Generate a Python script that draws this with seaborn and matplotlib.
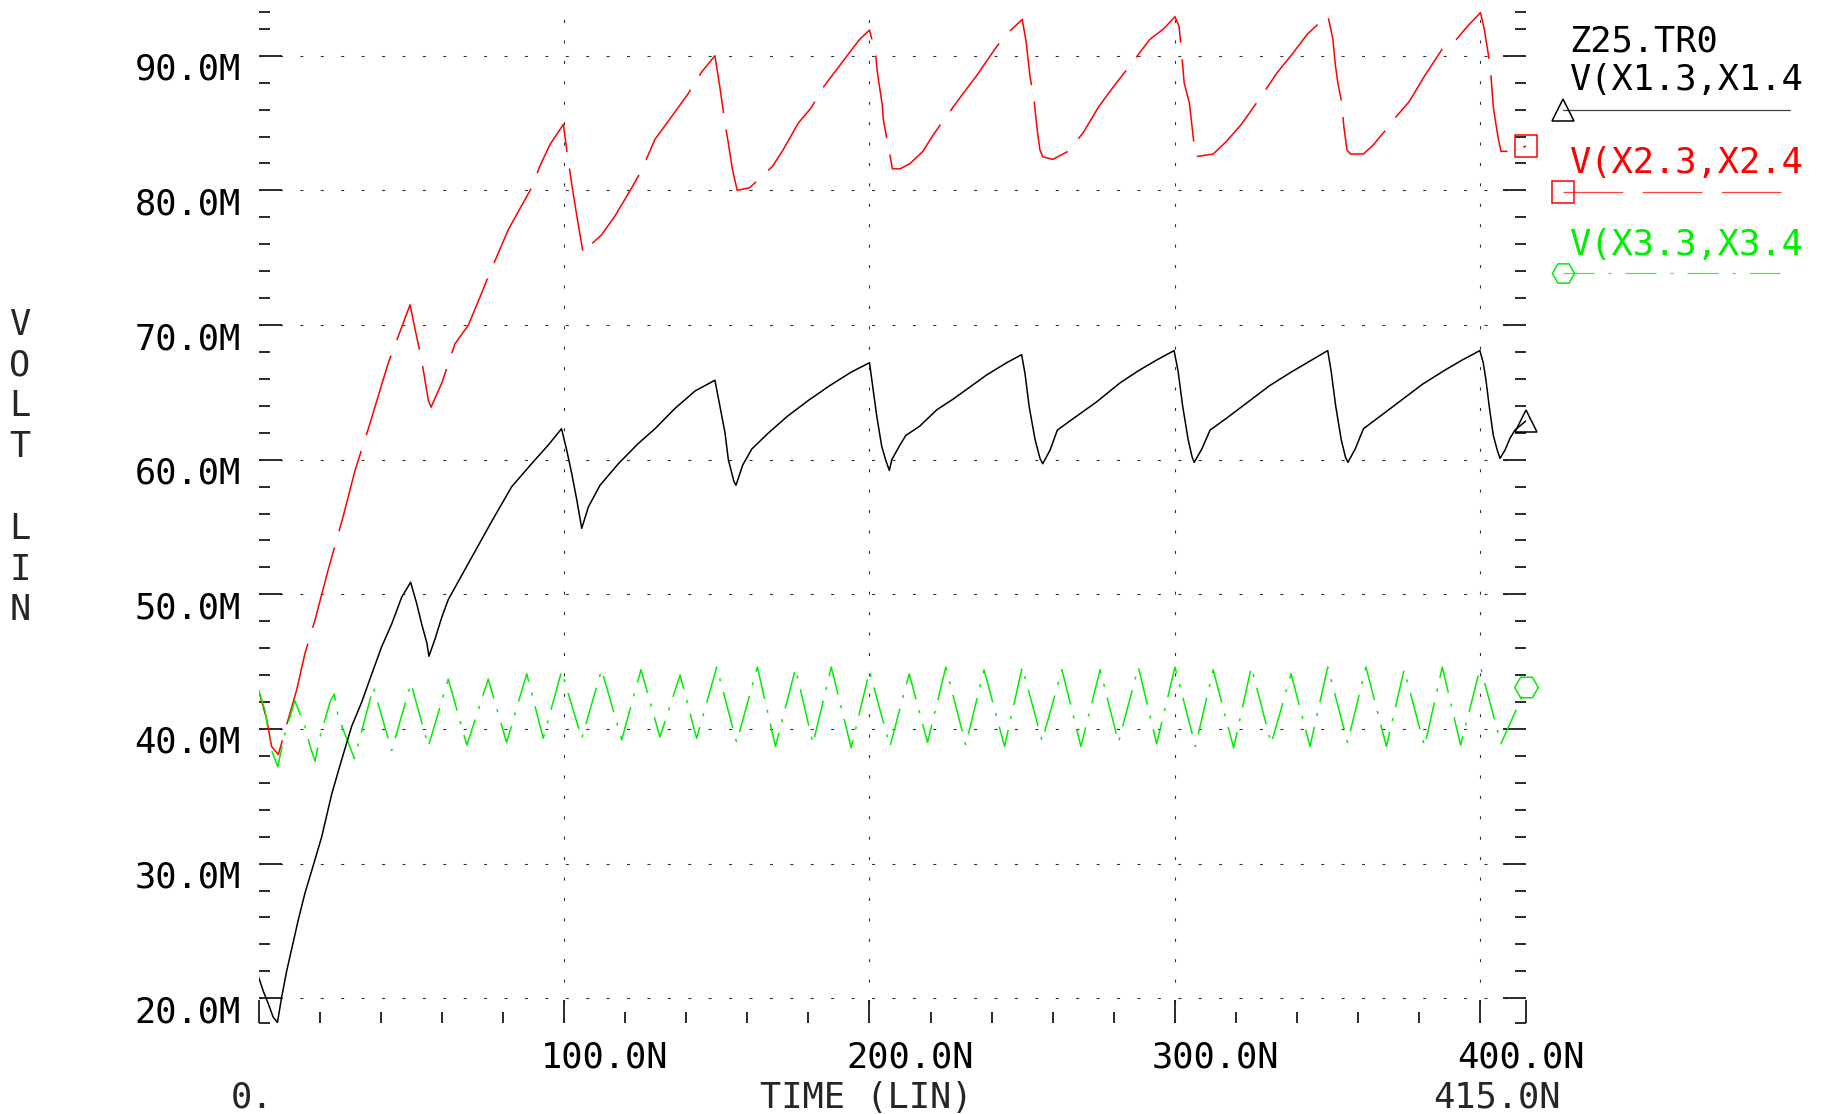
import matplotlib
matplotlib.use("Agg")
import matplotlib.pyplot as plt
from matplotlib.lines import Line2D
import seaborn as sns

# ---------------- data (time in ns, voltage in "M" units) ----------------
black_t = [0, 1.6, 3.2, 4.8, 6.2, 7.6, 9.2, 10.9, 13.0, 15.2,
           18.5, 20.7, 24.0, 27.2, 30.5, 33.8, 37.1, 40.3, 43.6, 46.9,
           49.8, 51.8, 53.4, 55.1, 55.8, 57.8, 60.0, 62.1, 66.5, 70.9,
           76.3, 82.9, 89.4, 94.9, 99.2, 100.9, 102.5, 104.2, 105.8, 108.0,
           111.8, 117.8, 124.3, 129.8, 136.3, 142.9, 149.4, 151.1, 152.7, 153.8,
           155.6, 156.3, 158.5, 161.5, 167.0, 173.0, 180.0, 187.0, 194.0, 200.0,
           201.2, 202.4, 204.0, 205.4, 206.5, 207.3, 210.0, 211.9, 216.5, 222.0,
           227.4, 232.9, 238.4, 244.9, 249.8, 250.9, 252.3, 254.2, 255.8, 256.7,
           259.1, 261.5, 267.0, 274.4, 282.0, 288.0, 294.0, 299.7, 301.0, 302.5,
           304.3, 305.6, 306.3, 308.8, 311.5, 317.0, 324.0, 331.0, 338.0, 344.0,
           350.0, 351.1, 352.6, 354.4, 355.8, 356.6, 359.0, 361.7, 367.0, 374.0,
           381.0, 388.0, 394.0, 399.8, 400.9, 401.8, 402.9, 404.2, 405.5, 406.4,
           408.0, 409.7, 411.3, 415.0]
black_v = [21.6, 20.5, 19.6, 18.6, 18.2, 20.1, 22.0, 23.7, 25.8, 27.8,
           30.3, 32.0, 35.2, 37.7, 40.2, 42.0, 44.1, 46.1, 47.8, 49.8,
           50.9, 49.3, 47.8, 46.4, 45.4, 46.7, 48.3, 49.6, 51.4, 53.2,
           55.4, 58.0, 59.7, 61.1, 62.3, 60.7, 59.0, 57.0, 54.9, 56.5,
           58.1, 59.7, 61.2, 62.3, 63.8, 65.1, 65.9, 63.9, 62.0, 60.0,
           58.4, 58.1, 59.6, 60.8, 62.0, 63.2, 64.4, 65.5, 66.5, 67.2,
           65.2, 63.2, 61.0, 59.9, 59.2, 60.0, 61.1, 61.8, 62.5, 63.7,
           64.5, 65.4, 66.3, 67.2, 67.8, 66.4, 63.9, 61.5, 60.1, 59.7,
           60.7, 62.2, 63.1, 64.3, 65.7, 66.6, 67.4, 68.1, 66.6, 64.0,
           61.5, 60.2, 59.8, 60.8, 62.2, 63.1, 64.3, 65.5, 66.5, 67.3,
           68.1, 66.6, 64.0, 61.5, 60.2, 59.8, 60.8, 62.3, 63.2, 64.4,
           65.6, 66.6, 67.4, 68.1, 67.2, 65.9, 63.9, 61.8, 60.7, 60.1,
           60.7, 61.6, 62.2, 62.9]

red_t = [0, 2.7, 4.3, 6.5, 9.2, 12.5, 15.2, 18.5, 22.9, 27.5,
         31.6, 36.5, 42.5, 49.6, 51.8, 53.4, 55.6, 56.5, 60.0, 64.3,
         68.7, 73.1, 75.2, 81.8, 85.0, 89.4, 92.1, 95.4, 99.8, 100.9,
         102.5, 104.2, 106.3, 108.0, 112.3, 116.7, 122.2, 125.4, 129.8, 135.3,
         140.7, 145.1, 149.4, 151.0, 152.7, 153.8, 155.1, 156.7, 160.8, 168.3,
         171.7, 176.7, 180.8, 185.0, 191.7, 196.7, 200.0, 202.0, 202.5, 203.3,
         204.2, 204.5, 205.8, 206.7, 207.5, 210.0, 213.3, 217.5, 220.8, 224.2,
         230.0, 235.0, 241.7, 245.8, 250.0, 251.3, 252.5, 253.7, 255.0, 255.8,
         256.7, 260.0, 265.0, 270.0, 275.0, 279.2, 286.7, 291.7, 296.3, 300.0,
         301.3, 302.0, 303.0, 304.7, 305.8, 306.7, 312.5, 316.7, 321.7, 328.3,
         333.3, 338.3, 343.3, 350.0, 350.8, 351.7, 352.5, 353.3, 354.5, 355.3,
         356.3, 357.5, 361.7, 365.0, 368.3, 372.5, 376.7, 381.7, 387.5, 391.7,
         395.8, 398.3, 400.0, 401.3, 402.5, 403.3, 404.2, 405.0, 405.8, 406.7,
         411.0, 415.0]
red_v = [42.9, 40.7, 38.7, 38.1, 40.3, 42.9, 45.6, 48.1, 51.9, 55.6,
         59.2, 62.7, 67.2, 71.5, 69.1, 67.4, 64.4, 63.9, 65.7, 68.6,
         70.0, 72.4, 73.6, 77.1, 78.4, 80.2, 81.8, 83.4, 84.9, 83.0,
         80.5, 78.1, 75.3, 75.8, 76.7, 78.1, 80.2, 81.5, 83.8, 85.5,
         87.2, 88.8, 90.0, 87.7, 85.0, 83.5, 81.6, 80.0, 80.2, 81.8,
         83.0, 85.0, 86.1, 87.7, 89.7, 91.2, 91.9, 90.2, 88.9, 87.7,
         86.3, 85.3, 83.7, 82.6, 81.6, 81.6, 82.0, 82.9, 84.1, 85.2,
         87.0, 88.5, 90.7, 91.8, 92.7, 91.0, 88.5, 87.0, 84.3, 83.0,
         82.5, 82.3, 82.9, 84.3, 86.2, 87.5, 89.7, 91.2, 92.0, 92.9,
         92.2, 90.7, 88.0, 86.5, 84.3, 82.5, 82.7, 83.6, 84.9, 87.0,
         88.7, 90.1, 91.6, 93.0, 92.2, 91.2, 89.3, 88.0, 86.6, 84.7,
         83.0, 82.7, 82.7, 83.4, 84.3, 85.5, 86.6, 88.5, 90.5, 91.1,
         92.2, 92.8, 93.2, 91.9, 90.2, 88.9, 86.2, 85.0, 83.9, 82.9,
         82.9, 83.3]

green_t = [0, 2.1, 4.3, 6.3, 8.7, 10.3, 11.9, 15.2, 16.9, 18.5,
           20.1, 23.4, 24.8, 26.1, 31.4, 37.6, 43.6, 49.9, 55.6, 62.1,
           68.2, 75.2, 81.2, 87.8, 93.2, 99.2, 105.8, 112.3, 118.9, 125.2,
           131.4, 138.0, 143.4, 150.0, 156.5, 163.3, 169.2, 175.8, 181.5, 187.5,
           194.0, 200.0, 206.7, 213.0, 219.0, 225.0, 231.5, 237.5, 244.2, 250.0,
           256.5, 263.0, 269.2, 275.5, 281.5, 288.0, 294.0, 300.0, 306.7, 312.5,
           319.2, 325.0, 331.5, 338.0, 344.2, 350.0, 356.5, 362.5, 369.2, 375.0,
           381.7, 387.5, 393.5, 400.0, 406.7, 415.0]
green_v = [42.9, 41.4, 38.4, 37.2, 39.7, 40.9, 42.1, 40.2, 38.7, 37.6,
           39.4, 42.0, 42.6, 40.9, 37.8, 43.1, 38.4, 43.4, 38.7, 43.7,
           38.8, 43.7, 39.0, 44.1, 39.3, 44.3, 39.3, 44.4, 39.2, 44.4,
           39.4, 44.0, 39.3, 44.6, 39.0, 44.6, 38.7, 44.5, 38.9, 44.6,
           38.6, 44.3, 38.7, 44.1, 39.0, 44.6, 38.8, 44.4, 38.7, 44.6,
           39.1, 44.4, 38.7, 44.4, 39.0, 44.6, 38.9, 44.6, 38.7, 44.4,
           38.6, 44.6, 38.9, 44.1, 38.7, 44.6, 39.0, 44.6, 38.7, 44.4,
           38.7, 44.6, 38.8, 44.6, 38.9, 43.1]

y_major = [20, 30, 40, 50, 60, 70, 80, 90]
y_labels = ["20.0M", "30.0M", "40.0M", "50.0M", "60.0M", "70.0M", "80.0M", "90.0M"]
x_grid = [100, 200, 300, 400]
x_labels = ["100.0N", "200.0N", "300.0N", "400.0N"]
trace_names = ["V(X1.3,X1.4", "V(X2.3,X2.4", "V(X3.3,X3.4"]
plot_title = "Z25.TR0"
x_start_label = "0."
x_end_label = "415.0N"
x_axis_title = "TIME (LIN)"
y_axis_title = "V\nO\nL\nT\n\nL\nI\nN"

# ---------------- style ----------------
sns.set_style("white")
plt.rcParams["font.family"] = ["DejaVu Sans Mono", "DejaVu Sans"]
plt.rcParams["lines.scale_dashes"] = False

W, H = 1826, 1114
FS = 25.5
X_MIN, X_MAX = 0.0, 415.0
Y_MIN, Y_MAX = 18.14, 93.27

# dash patterns (points)
RED_DASH = (0, (60, 12))
GREEN_DASHDOT = (0, (27, 8, 2.2, 8))
KEY_RED_DASH = (0, (43, 14))
KEY_GREEN_DASHDOT = (0, (22.3, 10.1, 2.2, 10.1))
GRID_DOT = (0, (2.2, 12.5))


def fx(px):
    return px / W


def fy(py):
    return 1 - py / H


fig = plt.figure(figsize=(W / 100, H / 100), dpi=100)
fig.patch.set_facecolor("white")
ax = fig.add_axes([fx(258.5), fy(1023.3), (1526.3 - 258.5) / W, (1023.3 - 11.7) / H])
ax.set_facecolor("white")
ax.set_xlim(X_MIN, X_MAX)
ax.set_ylim(Y_MIN, Y_MAX)
for s in ax.spines.values():
    s.set_visible(False)

# dotted reference grid
for v in y_major:
    ax.axhline(v, color="#333333", lw=0.8, linestyle=GRID_DOT, zorder=0.5)
for t in x_grid:
    ax.axvline(t, color="#333333", lw=0.8, linestyle=GRID_DOT, zorder=0.5)

# traces
sns.lineplot(x=black_t, y=black_v, ax=ax, color="black", linewidth=1.1,
             estimator=None, sort=False, errorbar=None, zorder=3)
sns.lineplot(x=red_t, y=red_v, ax=ax, color="#ff0000", linewidth=1.1,
             linestyle=RED_DASH, estimator=None, sort=False, errorbar=None, zorder=2)
sns.lineplot(x=green_t, y=green_v, ax=ax, color="#00ee00", linewidth=1.1,
             linestyle=GREEN_DASHDOT, estimator=None, sort=False, errorbar=None, zorder=2)

# end-of-trace markers
ax.plot([black_t[-1]], [black_v[-1]], marker="^", ms=16, mfc="none", mec="black",
        mew=1.1, clip_on=False, zorder=4)
ax.plot([red_t[-1]], [red_v[-1]], marker="s", ms=16, mfc="none", mec="#ff0000",
        mew=1.1, clip_on=False, zorder=4)
ax.plot([green_t[-1]], [green_v[-1]], marker="H", ms=17, mfc="none", mec="#00ee00",
        mew=1.1, clip_on=False, zorder=4)

# ticks
y_minor = [v for v in range(22, 93, 2) if v % 10 != 0] + [Y_MIN, Y_MAX]
ax.set_yticks(y_major)
ax.set_yticks(y_minor, minor=True)
ax.set_xticks([0, 100, 200, 300, 400, X_MAX])
ax.set_xticks([t for t in range(20, 400, 20) if t % 100 != 0], minor=True)
ax.tick_params(axis="y", which="both", left=True, right=True, direction="in",
               labelleft=False, labelright=False, color="#1a1a1a", width=1.3)
ax.tick_params(axis="x", which="both", bottom=True, top=False, direction="in",
               labelbottom=False, color="#1a1a1a", width=1.3)
ax.tick_params(which="major", length=16.5)
ax.tick_params(which="minor", length=8)

# tick labels
for v, lab in zip(y_major, y_labels):
    ax.annotate(lab, xy=(0, v), xycoords=("axes fraction", "data"),
                xytext=(-18, -24), textcoords="offset pixels",
                ha="right", va="baseline", fontsize=FS, color="black")
for t, lab in zip(x_grid, x_labels):
    ax.annotate(lab, xy=(t, 0), xycoords=("data", "axes fraction"),
                xytext=(-23, -44), textcoords="offset pixels",
                ha="left", va="baseline", fontsize=FS, color="black")

fig.text(fx(231), fy(1108), x_start_label, ha="left", va="baseline", fontsize=FS)
fig.text(fx(866), fy(1108), x_axis_title, ha="center", va="baseline", fontsize=FS)
fig.text(fx(1433), fy(1108), x_end_label, ha="left", va="baseline", fontsize=FS)
fig.text(fx(20), fy(308), y_axis_title, ha="center", va="top", fontsize=FS,
         linespacing=1.25)

# trace key on the right
fig.text(fx(1569), fy(52), plot_title, ha="left", va="baseline", fontsize=FS, color="black")
key_colors = ["black", "#ff0000", "#00ee00"]
key_text_base = [90, 173, 255]
key_line_y = [110, 192, 273]
key_line_end = [1790, 1787, 1780]
key_styles = ["-", KEY_RED_DASH, KEY_GREEN_DASHDOT]
key_markers = ["^", "s", "H"]
for name, col, tb, ly, le, ls, mk in zip(trace_names, key_colors, key_text_base,
                                          key_line_y, key_line_end, key_styles, key_markers):
    fig.text(fx(1569), fy(tb), name, ha="left", va="baseline", fontsize=FS, color=col)
    fig.add_artist(Line2D([fx(1563), fx(le)], [fy(ly), fy(ly)], transform=fig.transFigure,
                          color=col, lw=0.9, linestyle=ls, alpha=0.75))
    fig.add_artist(Line2D([fx(1563)], [fy(ly)], transform=fig.transFigure,
                          marker=mk, ms=16, mfc="none", mec=col, mew=1.1, linestyle="none"))

fig.savefig("out.png", dpi=100, facecolor="white")
